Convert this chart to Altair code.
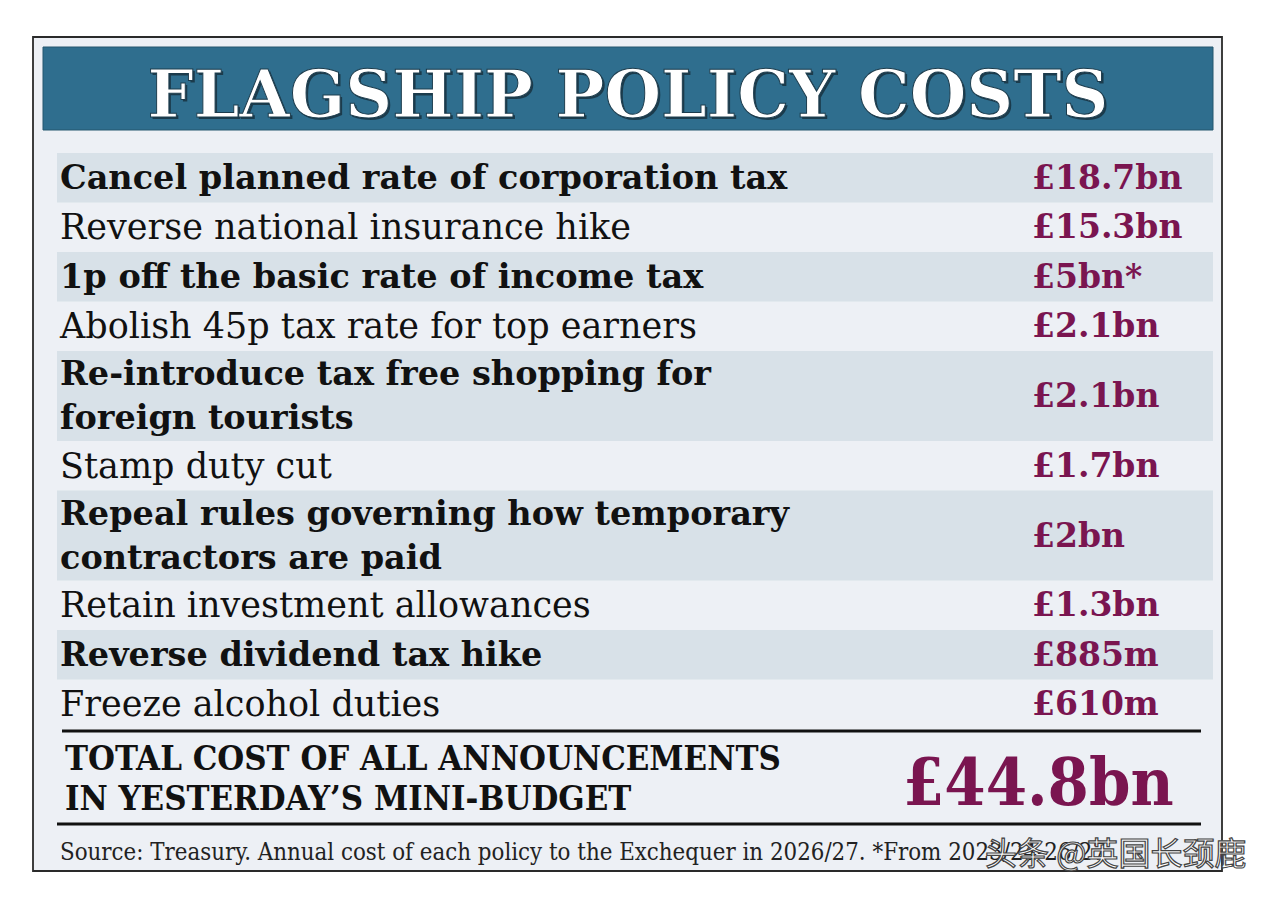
import altair as alt
import pandas as pd

# ---------------- data ----------------
title_text = "FLAGSHIP POLICY COSTS"
policies = [
    "Cancel planned rate of corporation tax",
    "Reverse national insurance hike",
    "1p off the basic rate of income tax",
    "Abolish 45p tax rate for top earners",
    "Re-introduce tax free shopping for\nforeign tourists",
    "Stamp duty cut",
    "Repeal rules governing how temporary\ncontractors are paid",
    "Retain investment allowances",
    "Reverse dividend tax hike",
    "Freeze alcohol duties",
]
costs = ["£18.7bn", "£15.3bn", "£5bn*", "£2.1bn", "£2.1bn",
         "£1.7bn", "£2bn", "£1.3bn", "£885m", "£610m"]
bold_rows = [True, False, True, False, True, False, True, False, True, False]
total_lines = ["TOTAL COST OF ALL ANNOUNCEMENTS", "IN YESTERDAY\u2019S MINI-BUDGET"]
total_cost = "£44.8bn"
source_note = ("Source: Treasury. Annual cost of each policy to the Exchequer "
               "in 2026/27. *From 2023/24-26/27")
watermark = "头条 @英国长颈鹿"

# ---------------- layout / style ----------------
W, H = 1252, 886
xs = alt.Scale(domain=[8, 8 + W], nice=False, zero=False)
ys = alt.Scale(domain=[8, 8 + H], nice=False, zero=False, reverse=True)

BG = "#edf0f5"
BAND = "#d8e1e8"
BANNER = "#2f6e8e"
VALUE = "#7a1550"
INK = "#111111"
SERIF = "DejaVu Serif"
SERIF_C = "DejaVu Serif Condensed, DejaVu Serif"

ROW_TOP, SINGLE_H, DOUBLE_H, LINE_H = 153, 49.5, 90, 44
rows = []
top = ROW_TOP
for label, cost, b in zip(policies, costs, bold_rows):
    n = label.count("\n") + 1
    h = SINGLE_H if n == 1 else DOUBLE_H
    mid = top + h / 2 + 1
    rows.append(dict(label=label, cost=cost, bold=b, top=top, bottom=top + h,
                     mid=mid, ty=mid - (n - 1) * LINE_H / 2,
                     x0=57, x1=1213, lx=60, cx=1032))
    top += h
df = pd.DataFrame(rows)
table_bottom = top


def X(f):
    return alt.X(f"{f}:Q", scale=xs, axis=None)


def X2(f):
    return alt.X2(f"{f}:Q")


def Y(f):
    return alt.Y(f"{f}:Q", scale=ys, axis=None)


def Y2(f):
    return alt.Y2(f"{f}:Q")


# outer box
box_df = pd.DataFrame([dict(x=33, x2=1222, y=37, y2=871)])
box = alt.Chart(box_df).mark_rect(fill=BG, stroke="#2a2a2a", strokeWidth=1.8).encode(
    x=X("x"), x2=X2("x2"), y=Y("y"), y2=Y2("y2"))

banner_df = pd.DataFrame([dict(x=43, x2=1213, y=47, y2=130)])
banner = alt.Chart(banner_df).mark_rect(fill=BANNER, stroke="#24566f", strokeWidth=1).encode(
    x=X("x"), x2=X2("x2"), y=Y("y"), y2=Y2("y2"))

title_df = pd.DataFrame([dict(t=title_text, x=628, y=117)])
title_shadow = alt.Chart(title_df).mark_text(
    font=SERIF, fontSize=65, fontWeight="bold", align="center", baseline="alphabetic",
    color="#1b3b4c", dx=2, dy=2).encode(x=X("x"), y=Y("y"), text="t:N")
title = alt.Chart(title_df).mark_text(
    font=SERIF, fontSize=65, fontWeight="bold", align="center", baseline="alphabetic",
    color="#ffffff", stroke="#1b3b4c", strokeWidth=1).encode(x=X("x"), y=Y("y"), text="t:N")

bands = alt.Chart(df[df.bold]).mark_rect(fill=BAND).encode(
    x=X("x0"), x2=X2("x1"), y=Y("top"), y2=Y2("bottom"))

lab_bold = alt.Chart(df[df.bold]).mark_text(
    font=SERIF, fontSize=33.5, fontWeight="bold", align="left", baseline="middle",
    color=INK, lineBreak="\n", lineHeight=LINE_H).encode(x=X("lx"), y=Y("ty"), text="label:N")
lab_reg = alt.Chart(df[~df.bold]).mark_text(
    font=SERIF, fontSize=35, fontWeight="normal", align="left", baseline="middle",
    color=INK, lineBreak="\n", lineHeight=LINE_H).encode(x=X("lx"), y=Y("ty"), text="label:N")
cost_txt = alt.Chart(df).mark_text(
    font=SERIF, fontSize=33, fontWeight="bold", align="left", baseline="middle",
    color=VALUE).encode(x=X("cx"), y=Y("mid"), text="cost:N")

rules_df = pd.DataFrame([dict(x=62, x2=1201, y=table_bottom + 2),
                         dict(x=57, x2=1201, y=824)])
rules = alt.Chart(rules_df).mark_rule(color=INK, strokeWidth=3).encode(
    x=X("x"), x2=X2("x2"), y=Y("y"))

tot_df = pd.DataFrame([dict(t=total_lines[0], x=65, y=770),
                       dict(t=total_lines[1], x=65, y=810)])
tot_txt = alt.Chart(tot_df).mark_text(
    font=SERIF_C, fontSize=34.4, fontWeight="bold", align="left", baseline="alphabetic",
    color=INK).encode(x=X("x"), y=Y("y"), text="t:N")

totv_df = pd.DataFrame([dict(t=total_cost, x=903, y=805)])
totv = alt.Chart(totv_df).mark_text(
    font=SERIF_C, fontSize=66, fontWeight="bold", align="left", baseline="alphabetic",
    color=VALUE).encode(x=X("x"), y=Y("y"), text="t:N")

src_df = pd.DataFrame([dict(t=source_note, x=60, y=860)])
src = alt.Chart(src_df).mark_text(
    font=SERIF_C, fontSize=23.8, align="left", baseline="alphabetic",
    color="#222222").encode(x=X("x"), y=Y("y"), text="t:N")

wm_df = pd.DataFrame([dict(t=watermark, x=985, y=865)])
wm = alt.Chart(wm_df).mark_text(
    font="Noto Sans CJK SC", fontSize=32, align="left", baseline="alphabetic",
    color="#ffffff", stroke="#444444", strokeWidth=1.2).encode(x=X("x"), y=Y("y"), text="t:N")

chart = alt.layer(
    box, banner, title_shadow, title, bands, lab_bold, lab_reg, cost_txt,
    rules, tot_txt, totv, src, wm
).properties(
    width=W, height=H, padding=0, autosize="none", background="#ffffff"
).configure_view(stroke=None)

chart.save("out.html", embed_options={"renderer": "svg", "actions": False})
